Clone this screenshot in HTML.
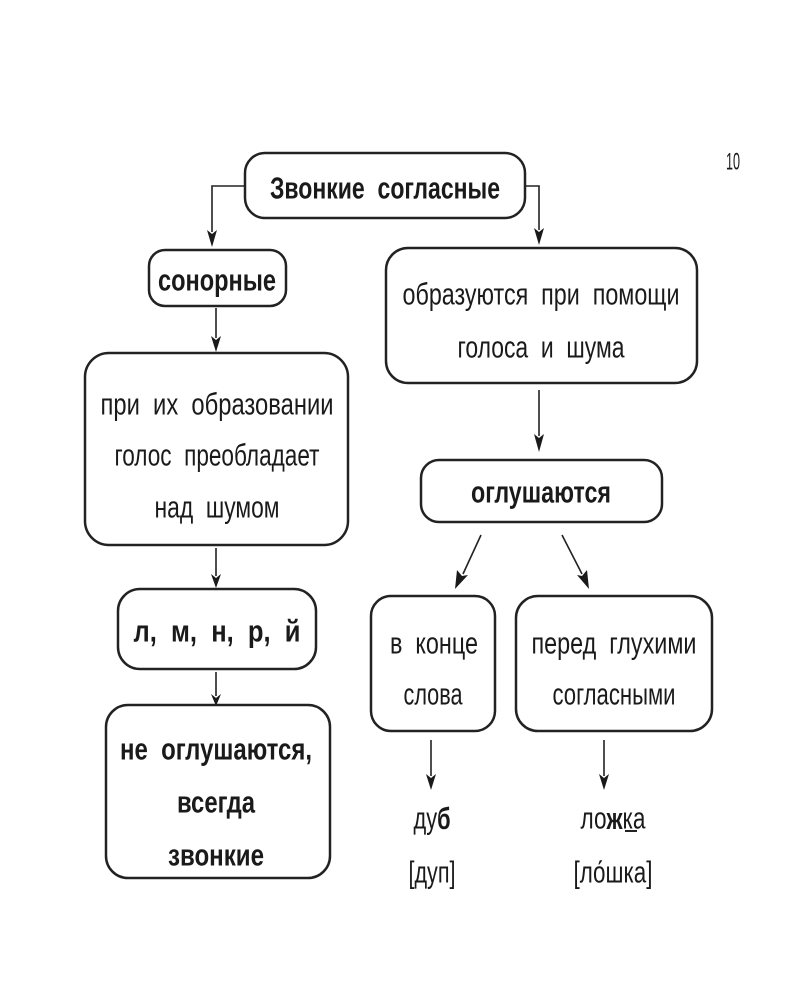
<!DOCTYPE html>
<html><head><meta charset="utf-8"><style>
html,body{margin:0;padding:0;background:#fff;width:800px;height:1000px;overflow:hidden}
text{font-family:"Liberation Sans","DejaVu Sans",sans-serif;fill:#1a1a1a}
</style></head><body>
<svg width="800" height="1000" viewBox="0 0 800 1000" xmlns="http://www.w3.org/2000/svg">
<g fill="none" stroke="#222" stroke-width="2.5">
<rect x="245" y="153" width="280" height="65" rx="20"/>
<rect x="149" y="250" width="137" height="56" rx="16"/>
<rect x="386" y="248" width="311" height="135" rx="22"/>
<rect x="85" y="353" width="263" height="192" rx="24"/>
<rect x="421" y="460" width="241" height="62" rx="18"/>
<rect x="118" y="589" width="198" height="80" rx="22"/>
<rect x="106" y="705" width="224" height="173" rx="22"/>
<rect x="371" y="596" width="124" height="135" rx="20"/>
<rect x="516" y="596" width="196" height="135" rx="22"/>
</g>
<g fill="none" stroke="#222" stroke-width="1.6">
<polyline points="245,186 212,186 212,232"/>
<polyline points="525,186 539,186 539,230"/>
<line x1="216" y1="308" x2="216" y2="338"/>
<line x1="539" y1="390" x2="539" y2="436"/>
<line x1="216" y1="548" x2="216" y2="576"/>
<line x1="216" y1="672" x2="216" y2="696"/>
<line x1="481" y1="535" x2="463" y2="574"/>
<line x1="562" y1="535" x2="582" y2="574"/>
<line x1="431" y1="740" x2="431" y2="776"/>
<line x1="604" y1="740" x2="604" y2="776"/>
</g>
<g fill="#1a1a1a">
<path d="M207,230 L212,247 L217,230 L212,234Z"/>
<path d="M534,228 L539,245 L544,228 L539,232Z"/>
<path d="M211,336 L216,352 L221,336 L216,340Z"/>
<path d="M534,434 L539,452 L544,434 L539,438Z"/>
<path d="M211,574 L216,588 L221,574 L216,578Z"/>
<path d="M211,694 L216,706 L221,694 L216,698Z"/>
<path d="M426,774 L431,790 L436,774 L431,778Z"/>
<path d="M599,774 L604,790 L609,774 L604,778Z"/>
<path d="M457,570 L455,589 L468,575 L462,576Z"/>
<path d="M577,575 L589,589 L587,570 L582,576Z"/>
</g>
<g font-size="31" text-anchor="middle" dominant-baseline="central">
<text x="385" y="188" font-weight="bold" textLength="230" lengthAdjust="spacingAndGlyphs">Звонкие&#160;&#160;согласные</text>
<text x="217" y="280" font-weight="bold" textLength="118" lengthAdjust="spacingAndGlyphs">сонорные</text>
<text x="541" y="294" textLength="277" lengthAdjust="spacingAndGlyphs">образуются&#160;&#160;при&#160;&#160;помощи</text>
<text x="541" y="347" textLength="167" lengthAdjust="spacingAndGlyphs">голоса&#160;&#160;и&#160;&#160;шума</text>
<text x="217" y="404" textLength="233" lengthAdjust="spacingAndGlyphs">при&#160;&#160;их&#160;&#160;образовании</text>
<text x="217" y="455" textLength="205" lengthAdjust="spacingAndGlyphs">голос&#160;&#160;преобладает</text>
<text x="217" y="507" textLength="125" lengthAdjust="spacingAndGlyphs">над&#160;&#160;шумом</text>
<text x="541" y="492" font-weight="bold" textLength="140" lengthAdjust="spacingAndGlyphs">оглушаются</text>
<text x="217" y="631" font-weight="bold" textLength="167" lengthAdjust="spacingAndGlyphs">л,&#160;&#160;м,&#160;&#160;н,&#160;&#160;р,&#160;&#160;й</text>
<text x="216" y="749" font-weight="bold" textLength="192" lengthAdjust="spacingAndGlyphs">не&#160;&#160;оглушаются,</text>
<text x="216" y="802" font-weight="bold" textLength="78" lengthAdjust="spacingAndGlyphs">всегда</text>
<text x="216" y="855" font-weight="bold" textLength="96" lengthAdjust="spacingAndGlyphs">звонкие</text>
<text x="434" y="643" textLength="88" lengthAdjust="spacingAndGlyphs">в&#160;&#160;конце</text>
<text x="433" y="694" textLength="59" lengthAdjust="spacingAndGlyphs">слова</text>
<text x="614" y="643" textLength="165" lengthAdjust="spacingAndGlyphs">перед&#160;&#160;глухими</text>
<text x="614" y="694" textLength="123" lengthAdjust="spacingAndGlyphs">согласными</text>
<text x="432" y="818" textLength="37" lengthAdjust="spacingAndGlyphs">ду<tspan font-weight="bold">б</tspan></text>
<text x="432" y="872" textLength="47" lengthAdjust="spacingAndGlyphs">[дуп]</text>
<text x="613" y="818" textLength="65" lengthAdjust="spacingAndGlyphs">ло<tspan font-weight="bold">ж</tspan>ка</text>
<text x="613" y="872" textLength="79" lengthAdjust="spacingAndGlyphs">[ло́шка]</text>
<text x="733" y="162" font-size="24" textLength="14" lengthAdjust="spacingAndGlyphs">10</text>
</g>
<line x1="625" y1="831" x2="637" y2="831" stroke="#222" stroke-width="2"/>
</svg>
</body></html>
